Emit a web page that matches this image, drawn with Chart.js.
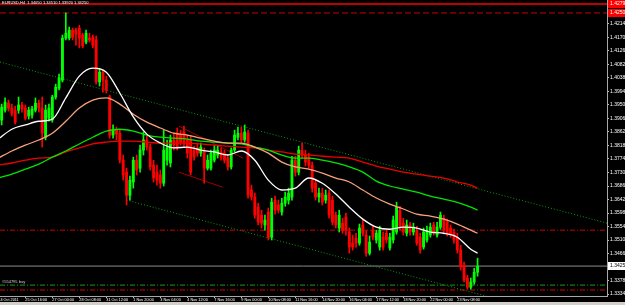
<!DOCTYPE html>
<html>
<head>
    <title>EURUSD,H4</title>
    <script src="https://cdn.jsdelivr.net/npm/chart.js"></script>
    <style>
        body { margin: 0; background: #d4d0c8; overflow: hidden; }
        #wrap { width: 625px; height: 302px; background: #000; }
    </style>
</head>
<body>
    <div id="wrap"><canvas id="chart" width="625" height="302"></canvas></div>

    <script>
        // time axis labels, one every 8 bars (H4)
        const timeLabels = ['24 Oct 2011', '25 Oct 16:00', '27 Oct 00:00', '28 Oct 08:00', '31 Oct 12:00',
            '1 Nov 20:00', '3 Nov 04:00', '4 Nov 12:00', '7 Nov 16:00', '9 Nov 00:00', '10 Nov 08:00',
            '11 Nov 16:00', '14 Nov 20:00', '16 Nov 04:00', '17 Nov 12:00', '18 Nov 20:00', '22 Nov 00:00',
            '23 Nov 08:00'];

        // price axis labels
        const priceTicks = [1.42140, 1.41700, 1.41260, 1.40820, 1.40380, 1.39940, 1.39500, 1.39060, 1.38620,
            1.38180, 1.37740, 1.37300, 1.36860, 1.36420, 1.35980, 1.35540, 1.35100, 1.34660, 1.34220,
            1.33780, 1.33340];

        // OHLC per bar
        const opens = [
            1.3901, 1.3901, 1.3933, 1.3956, 1.3940, 1.3933, 1.3933, 1.3950, 1.3940, 1.3914,
            1.3917, 1.3933, 1.3956, 1.3940, 1.3845, 1.3907, 1.3901, 1.3976, 1.4005, 1.4031,
            1.4168, 1.4168, 1.4194, 1.4194, 1.4201, 1.4178, 1.4155, 1.4168, 1.4171, 1.4162,
            1.4025, 1.4057, 1.4031, 1.3976, 1.3852, 1.3868, 1.3858, 1.3770, 1.3731, 1.3656,
            1.3699, 1.3770, 1.3744, 1.3803, 1.3836, 1.3813, 1.3754, 1.3731, 1.3722, 1.3695,
            1.3770, 1.3761, 1.3836, 1.3858, 1.3852, 1.3862, 1.3836, 1.3836, 1.3803, 1.3810,
            1.3793, 1.3797, 1.3744, 1.3744, 1.3770, 1.3787, 1.3797, 1.3793, 1.3777, 1.3748,
            1.3803, 1.3845, 1.3858, 1.3836, 1.3858, 1.3673, 1.3650, 1.3617, 1.3591, 1.3559,
            1.3601, 1.3519, 1.3640, 1.3624, 1.3601, 1.3630, 1.3640, 1.3650, 1.3770, 1.3731,
            1.3803, 1.3787, 1.3780, 1.3754, 1.3695, 1.3650, 1.3663, 1.3640, 1.3663, 1.3640,
            1.3591, 1.3549, 1.3565, 1.3585, 1.3536, 1.3500, 1.3516, 1.3500, 1.3559, 1.3526,
            1.3467, 1.3542, 1.3510, 1.3487, 1.3519, 1.3532, 1.3484, 1.3510, 1.3536, 1.3607,
            1.3565, 1.3532, 1.3559, 1.3536, 1.3542, 1.3519, 1.3487, 1.3510, 1.3526, 1.3559,
            1.3526, 1.3552, 1.3581, 1.3568, 1.3549, 1.3536, 1.3519, 1.3477, 1.3428, 1.3386,
            1.3356, 1.3373, 1.3405];
        const highs = [
            1.3917, 1.3953, 1.3973, 1.3966, 1.3953, 1.3946, 1.3976, 1.3959, 1.3950, 1.3943,
            1.3946, 1.3973, 1.3966, 1.3976, 1.3950, 1.3953, 1.3982, 1.4018, 1.4051, 1.4178,
            1.4250, 1.4204, 1.4201, 1.4201, 1.4210, 1.4184, 1.4194, 1.4184, 1.4178, 1.4175,
            1.4070, 1.4064, 1.4044, 1.3982, 1.3885, 1.3878, 1.3868, 1.3787, 1.3744, 1.3718,
            1.3780, 1.3787, 1.3819, 1.3862, 1.3849, 1.3823, 1.3770, 1.3754, 1.3738, 1.3868,
            1.3836, 1.3852, 1.3858, 1.3875, 1.3868, 1.3881, 1.3852, 1.3849, 1.3816, 1.3826,
            1.3826, 1.3810, 1.3787, 1.3803, 1.3819, 1.3816, 1.3810, 1.3803, 1.3787, 1.3810,
            1.3868, 1.3878, 1.3878, 1.3885, 1.3868, 1.3689, 1.3663, 1.3630, 1.3607, 1.3591,
            1.3614, 1.3646, 1.3653, 1.3640, 1.3646, 1.3666, 1.3679, 1.3783, 1.3783, 1.3816,
            1.3826, 1.3803, 1.3793, 1.3764, 1.3705, 1.3679, 1.3679, 1.3673, 1.3673, 1.3653,
            1.3601, 1.3607, 1.3581, 1.3598, 1.3549, 1.3526, 1.3532, 1.3562, 1.3575, 1.3542,
            1.3523, 1.3555, 1.3542, 1.3555, 1.3536, 1.3542, 1.3532, 1.3588, 1.3633, 1.3620,
            1.3581, 1.3575, 1.3568, 1.3565, 1.3555, 1.3532, 1.3549, 1.3555, 1.3565, 1.3568,
            1.3568, 1.3601, 1.3591, 1.3578, 1.3559, 1.3546, 1.3532, 1.3493, 1.3438, 1.3395,
            1.3386, 1.3418, 1.3451];
        const lows = [
            1.3862, 1.3885, 1.3927, 1.3930, 1.3914, 1.3888, 1.3923, 1.3927, 1.3901, 1.3904,
            1.3907, 1.3927, 1.3927, 1.3813, 1.3836, 1.3897, 1.3894, 1.3969, 1.3999, 1.4025,
            1.4162, 1.4162, 1.4162, 1.4145, 1.4136, 1.4136, 1.4149, 1.4155, 1.4136, 1.4018,
            1.4012, 1.3992, 1.3989, 1.3842, 1.3842, 1.3836, 1.3761, 1.3705, 1.3624, 1.3640,
            1.3679, 1.3722, 1.3731, 1.3787, 1.3803, 1.3738, 1.3699, 1.3689, 1.3679, 1.3686,
            1.3754, 1.3748, 1.3803, 1.3803, 1.3819, 1.3813, 1.3777, 1.3722, 1.3770, 1.3783,
            1.3783, 1.3695, 1.3738, 1.3738, 1.3764, 1.3777, 1.3770, 1.3761, 1.3738, 1.3741,
            1.3797, 1.3836, 1.3829, 1.3829, 1.3646, 1.3640, 1.3581, 1.3559, 1.3549, 1.3542,
            1.3510, 1.3510, 1.3594, 1.3598, 1.3591, 1.3620, 1.3627, 1.3640, 1.3718, 1.3722,
            1.3777, 1.3751, 1.3744, 1.3666, 1.3640, 1.3633, 1.3624, 1.3630, 1.3581, 1.3559,
            1.3549, 1.3536, 1.3532, 1.3526, 1.3467, 1.3477, 1.3487, 1.3493, 1.3523, 1.3457,
            1.3461, 1.3510, 1.3500, 1.3477, 1.3477, 1.3500, 1.3477, 1.3500, 1.3529, 1.3542,
            1.3526, 1.3523, 1.3526, 1.3526, 1.3493, 1.3467, 1.3480, 1.3503, 1.3519, 1.3526,
            1.3519, 1.3545, 1.3536, 1.3523, 1.3519, 1.3500, 1.3467, 1.3412, 1.3373, 1.3350,
            1.3350, 1.3366, 1.3392];
        const closes = [
            1.3875, 1.3943, 1.3959, 1.3940, 1.3923, 1.3894, 1.3950, 1.3937, 1.3907, 1.3933,
            1.3937, 1.3956, 1.3940, 1.3858, 1.3933, 1.3940, 1.3976, 1.4008, 1.4038, 1.4168,
            1.4184, 1.4194, 1.4171, 1.4181, 1.4168, 1.4142, 1.4184, 1.4162, 1.4145, 1.4025,
            1.4057, 1.4031, 1.3999, 1.3852, 1.3868, 1.3855, 1.3770, 1.3722, 1.3656, 1.3705,
            1.3770, 1.3738, 1.3803, 1.3836, 1.3813, 1.3748, 1.3712, 1.3705, 1.3695, 1.3803,
            1.3810, 1.3836, 1.3819, 1.3813, 1.3829, 1.3826, 1.3793, 1.3731, 1.3780, 1.3793,
            1.3813, 1.3744, 1.3770, 1.3793, 1.3803, 1.3803, 1.3780, 1.3770, 1.3748, 1.3803,
            1.3852, 1.3858, 1.3836, 1.3862, 1.3656, 1.3650, 1.3591, 1.3568, 1.3565, 1.3575,
            1.3519, 1.3633, 1.3607, 1.3607, 1.3630, 1.3650, 1.3663, 1.3770, 1.3731, 1.3803,
            1.3787, 1.3764, 1.3754, 1.3679, 1.3650, 1.3663, 1.3633, 1.3656, 1.3591, 1.3568,
            1.3559, 1.3591, 1.3542, 1.3542, 1.3487, 1.3487, 1.3500, 1.3549, 1.3532, 1.3467,
            1.3503, 1.3519, 1.3532, 1.3542, 1.3487, 1.3510, 1.3519, 1.3575, 1.3617, 1.3552,
            1.3536, 1.3559, 1.3536, 1.3552, 1.3500, 1.3477, 1.3536, 1.3542, 1.3552, 1.3536,
            1.3552, 1.3591, 1.3542, 1.3532, 1.3529, 1.3510, 1.3477, 1.3422, 1.3379, 1.3356,
            1.3373, 1.3405, 1.3425];

        // moving averages, read every 4 bars
        const maBars = [0, 4, 8, 12, 16, 20, 24, 28, 32, 36, 40, 44, 48, 52, 56, 60, 64, 68, 72, 76,
            80, 84, 88, 92, 96, 100, 104, 108, 112, 116, 120, 124, 128, 132, 136, 140, 142];
        const maWhite = [1.3839, 1.3871, 1.3885, 1.3897, 1.3904, 1.3973, 1.4044, 1.4070, 1.4057, 1.3989,
            1.3911, 1.3855, 1.3826, 1.3810, 1.3813, 1.3803, 1.3797, 1.3787, 1.3800, 1.3770,
            1.3705, 1.3673, 1.3679, 1.3712, 1.3695, 1.3660, 1.3617, 1.3578, 1.3552, 1.3545,
            1.3552, 1.3549, 1.3536, 1.3532, 1.3519, 1.3480, 1.3467];
        const maPeach = [1.3777, 1.3800, 1.3819, 1.3836, 1.3858, 1.3897, 1.3940, 1.3966, 1.3973, 1.3953,
            1.3920, 1.3894, 1.3875, 1.3858, 1.3852, 1.3842, 1.3832, 1.3826, 1.3826, 1.3813,
            1.3793, 1.3764, 1.3748, 1.3741, 1.3728, 1.3712, 1.3699, 1.3673, 1.3647, 1.3627,
            1.3611, 1.3594, 1.3588, 1.3578, 1.3562, 1.3542, 1.3532];
        const maGreen = [1.3712, 1.3725, 1.3741, 1.3757, 1.3780, 1.3800, 1.3823, 1.3845, 1.3865, 1.3871,
            1.3865, 1.3852, 1.3845, 1.3842, 1.3839, 1.3832, 1.3829, 1.3826, 1.3823, 1.3813,
            1.3803, 1.3787, 1.3777, 1.3777, 1.3770, 1.3761, 1.3748, 1.3731, 1.3702, 1.3686,
            1.3676, 1.3666, 1.3653, 1.3643, 1.3633, 1.3617, 1.3607];
        const maRed = [1.3754, 1.3761, 1.3770, 1.3777, 1.3780, 1.3797, 1.3810, 1.3823, 1.3829, 1.3832,
            1.3832, 1.3829, 1.3826, 1.3826, 1.3826, 1.3823, 1.3819, 1.3816, 1.3813, 1.3810,
            1.3803, 1.3797, 1.3790, 1.3787, 1.3783, 1.3780, 1.3777, 1.3764, 1.3751, 1.3741,
            1.3731, 1.3725, 1.3718, 1.3712, 1.3699, 1.3689, 1.3679];

        // channel and trend lines: [bar, price] end points
        const upperChannel = [[0.5, 1.4090], [180.35, 1.3565]];
        const lowerChannel = [[38, 1.3640], [150, 1.3311]];
        const shortTrend = [[53.5, 1.3731], [66.5, 1.3682]];
        const upperTrend = [[53.5, 1.3881], [72.5, 1.3777]];

        // horizontal levels
        const stopLevel = 1.4279;
        const targetLevel = 1.4250;
        const midLevel = 1.3542;
        const bidLevel = 1.3425;
        const buyLevel = 1.3363;
        const lowLevel = 1.3347;

        const titleText = 'EURUSD,H4  1.34050 1.34510 1.33920 1.34250';
        const orderText = '#554795 buy';

        const xMin = 0.5, xMax = 180.35;
        const yMin = 1.33275, yMax = 1.42922;
        const bull = '#00ff00', bear = '#ff0000';
        const bars = opens.map((o, i) => i);
        const isUp = i => closes[i] >= opens[i];

        function seg(points) {
            return points.map(p => ({ x: p[0], y: p[1] }));
        }
        function level(price) {
            return [{ x: xMin, y: price }, { x: xMax, y: price }];
        }
        function maLine(values, color, width) {
            return {
                type: 'line', data: values.map((v, k) => ({ x: maBars[k], y: v })),
                borderColor: color, borderWidth: width, pointRadius: 0,
                cubicInterpolationMode: 'monotone', order: 0
            };
        }
        function levelLine(data, color, dash, width) {
            return {
                type: 'line', data: data, borderColor: color, borderWidth: width || 1,
                borderDash: dash, pointRadius: 0, order: 4
            };
        }

        // price boxes on the right axis and small texts
        const overlay = {
            id: 'overlay',
            afterDraw(chart) {
                const ctx = chart.ctx;
                const ys = chart.scales.y;
                const a = chart.chartArea;
                ctx.save();
                ctx.textBaseline = 'middle';
                ctx.font = '4px "Liberation Sans"';
                ctx.fillStyle = '#ffffff';
                ctx.fillText(titleText, 2, 3);
                ctx.fillStyle = '#d0d0d0';
                ctx.fillText(orderText, 2, ys.getPixelForValue(buyLevel) - 3);
                ctx.font = '5px "Liberation Sans"';
                const boxes = [
                    { v: stopLevel, bg: '#ff0000', fg: '#ffffff' },
                    { v: targetLevel, bg: '#ff0000', fg: '#ffffff' },
                    { v: bidLevel, bg: '#ffffff', fg: '#000000' }
                ];
                boxes.forEach(b => {
                    const py = Math.round(ys.getPixelForValue(b.v));
                    ctx.fillStyle = b.bg;
                    ctx.fillRect(a.right + 1, py - 4, 20, 8);
                    ctx.fillStyle = b.fg;
                    ctx.fillText(b.v.toFixed(5), a.right + 3, py);
                });
                ctx.restore();
            }
        };

        const config = {
            type: 'bar',
            data: {
                datasets: [
                    maLine(maWhite, '#ffffff', 1.3),
                    maLine(maPeach, '#f8a27c', 1.3),
                    maLine(maGreen, '#00e600', 1.3),
                    maLine(maRed, '#ee0000', 1.3),
                    {
                        // candle bodies
                        type: 'bar', order: 1, grouped: false,
                        data: bars.map(i => ({ x: i, y: [opens[i], closes[i]] })),
                        backgroundColor: bars.map(i => isUp(i) ? bull : bear),
                        barThickness: 2.2, minBarLength: 1
                    },
                    {
                        // wicks
                        type: 'bar', order: 2, grouped: false,
                        data: bars.map(i => ({ x: i, y: [lows[i], highs[i]] })),
                        backgroundColor: bars.map(i => isUp(i) ? bull : bear),
                        barThickness: 1
                    },
                    levelLine(seg(upperChannel), '#109a10', [1, 2]),
                    levelLine(seg(lowerChannel), '#109a10', [1, 2]),
                    levelLine(seg(shortTrend), '#a00000', []),
                    levelLine(seg(upperTrend), '#a00000', []),
                    levelLine(level(stopLevel), '#ff0000', [], 1.5),
                    levelLine(level(targetLevel), '#cc0000', [6, 3]),
                    levelLine(level(midLevel), '#cc0000', [5, 2, 1, 2]),
                    levelLine(level(bidLevel), '#8c8c8c', []),
                    levelLine(level(buyLevel), '#1a9a1a', [5, 2, 1, 2]),
                    levelLine(level(lowLevel), '#dd0000', [5, 2, 1, 2])
                ]
            },
            options: {
                responsive: false,
                animation: false,
                layout: { padding: 0 },
                plugins: { legend: { display: false }, tooltip: { enabled: false } },
                scales: {
                    x: {
                        type: 'linear', min: xMin, max: xMax, offset: false,
                        afterFit: s => { s.height = 6; s.paddingLeft = 0; s.paddingRight = 0; },
                        afterBuildTicks: s => { s.ticks = timeLabels.map((t, k) => ({ value: k * 8 })); },
                        ticks: {
                            color: '#ffffff', font: { family: 'Liberation Sans', size: 3.8 },
                            padding: 0, align: 'start', maxRotation: 0, autoSkip: false,
                            callback: v => timeLabels[Math.round(v / 8)]
                        },
                        grid: { drawOnChartArea: false, tickLength: 2, color: '#c0c0c0', offset: false },
                        border: { color: '#a8a8a8' }
                    },
                    y: {
                        position: 'right', min: yMin, max: yMax,
                        afterFit: s => { s.width = 18; s.paddingTop = 0; s.paddingBottom = 0; },
                        afterBuildTicks: s => { s.ticks = priceTicks.map(v => ({ value: v })); },
                        ticks: {
                            color: '#ffffff', font: { family: 'Liberation Sans', size: 5 },
                            padding: 1, callback: v => v.toFixed(5)
                        },
                        grid: { drawOnChartArea: false, tickLength: 2, color: '#c0c0c0' },
                        border: { color: '#a8a8a8' }
                    }
                }
            },
            plugins: [overlay]
        };

        const myChart = new Chart(document.getElementById('chart').getContext('2d'), config);
    </script>
</body>
</html>
